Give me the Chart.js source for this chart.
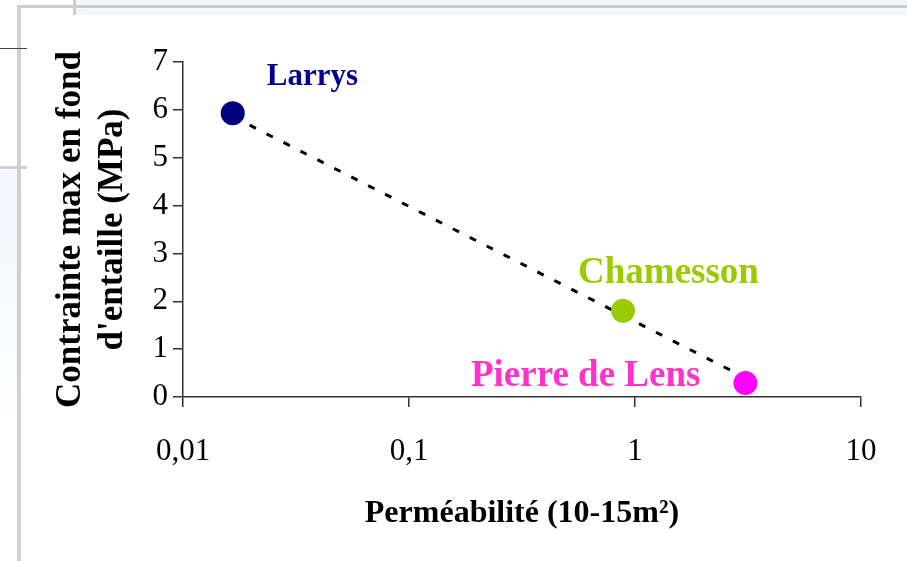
<!DOCTYPE html>
<html>
<head>
<meta charset="utf-8">
<script src="https://cdn.jsdelivr.net/npm/chart.js@4.4.1/dist/chart.umd.min.js"></script>
<style>
  body { margin: 0; background: #fff; }
  #wrap { position: relative; width: 907px; height: 561px; overflow: hidden; }
  .deco { position: absolute; }
  canvas { position: absolute; left: 0; top: 0; }
</style>
</head>
<body>
<div id="wrap">
  <!-- bits of the slide frame around the chart -->
  <div class="deco" style="left:76px;top:0;width:831px;height:15px;background:#f3f7fc"></div>
  <div class="deco" style="left:0;top:169px;width:17px;height:280px;background:linear-gradient(#f3f7fc,#fff)"></div>
  <div class="deco" style="left:17px;top:5px;width:890px;height:3px;background:#cbcbcb"></div>
  <div class="deco" style="left:17px;top:5px;width:4px;height:556px;background:#d0d0d0"></div>
  <div class="deco" style="left:73px;top:0;width:3px;height:15px;background:#d0d0d0"></div>
  <div class="deco" style="left:0;top:166px;width:27px;height:3px;background:#d0d0d0"></div>
  <div class="deco" style="left:0;top:48px;width:27px;height:1px;background:#444"></div>
  <canvas id="chart" width="907" height="561"></canvas>
</div>
<script>
const stones = ['Larrys', 'Chamesson', 'Pierre de Lens'];
const permeabilite = [0.0166, 0.885, 3.08];
const contrainte = [5.93, 1.80, 0.29];

// tendance (pointillés)
const trendX = [0.0166, 3.08];
const trendY = [5.86, 0.40];

const xTicks = [0.01, 0.1, 1, 10];
const xTickLabels = ['0,01', '0,1', '1', '10'];
const yTicks = [0, 1, 2, 3, 4, 5, 6, 7];

const pointColors = ['#000080', '#99cc00', '#ff00ff'];
const labelColors = ['#000090', '#99cc00', '#ff33cc'];

const serif = "'Liberation Serif', 'Times New Roman', serif";

const stoneLabels = {
  id: 'stoneLabels',
  afterDatasetsDraw(chart) {
    const ctx = chart.ctx;
    const pts = chart.getDatasetMeta(1).data;
    const place = [
      { dx: 34, dy: -28, align: 'left', size: 31 },
      { dx: -45, dy: -28, align: 'left', size: 37 },
      { dx: -45, dy: 3, align: 'right', size: 37 }
    ];
    ctx.save();
    ctx.textBaseline = 'alphabetic';
    pts.forEach((p, i) => {
      ctx.font = 'bold ' + place[i].size + 'px ' + serif;
      ctx.fillStyle = labelColors[i];
      ctx.textAlign = place[i].align;
      ctx.fillText(stones[i], p.x + place[i].dx, p.y + place[i].dy);
    });
    ctx.restore();
  }
};

new Chart(document.getElementById('chart'), {
  type: 'scatter',
  data: {
    datasets: [{
      type: 'line',
      data: trendX.map((x, i) => ({ x: x, y: trendY[i] })),
      borderColor: '#000',
      borderWidth: 3,
      borderDash: [7, 12],
      pointRadius: 0,
      fill: false,
      order: 1
    }, {
      data: permeabilite.map((x, i) => ({ x: x, y: contrainte[i] })),
      pointRadius: 12,
      pointBorderWidth: 0,
      pointBackgroundColor: pointColors,
      pointBorderColor: pointColors,
      order: 0
    }]
  },
  options: {
    responsive: false,
    devicePixelRatio: 1,
    animation: false,
    layout: { padding: { top: 62, right: 46, bottom: 0, left: 0 } },
    plugins: { legend: { display: false }, tooltip: { enabled: false } },
    scales: {
      x: {
        type: 'logarithmic',
        min: 0.01,
        max: 10,
        afterBuildTicks: (scale) => { scale.ticks = xTicks.map(v => ({ value: v })); },
        afterFit: (scale) => { scale.height = 164; },
        ticks: {
          callback: (v, i) => xTickLabels[i],
          font: { family: serif, size: 31 },
          color: '#000',
          padding: 26,
          maxRotation: 0,
          autoSkip: false
        },
        grid: { drawOnChartArea: false, drawTicks: true, tickLength: 10, color: '#333', lineWidth: 1.5 },
        border: { display: true, color: '#333', width: 1.5 },
        title: {
          display: true,
          text: 'Perméabilité (10-15m²)',
          font: { family: serif, size: 32, weight: 'bold', lineHeight: 1.2 },
          color: '#000',
          padding: { top: 0, bottom: 28 }
        }
      },
      y: {
        min: 0,
        max: 7,
        afterBuildTicks: (scale) => { scale.ticks = yTicks.map(v => ({ value: v })); },
        afterFit: (scale) => { scale.width = 183; },
        ticks: {
          font: { family: serif, size: 31 },
          color: '#000',
          padding: 5
        },
        grid: { drawOnChartArea: false, drawTicks: true, tickLength: 10, color: '#333', lineWidth: 1.5 },
        border: { display: true, color: '#333', width: 1.5 },
        title: {
          display: true,
          text: ['Contrainte max en fond', "d'entaille (MPa)"],
          font: { family: serif, size: 35, weight: 'bold', lineHeight: 1.2 },
          color: '#000',
          padding: { top: 50, bottom: 0 }
        }
      }
    }
  },
  plugins: [stoneLabels]
});
</script>
</body>
</html>
